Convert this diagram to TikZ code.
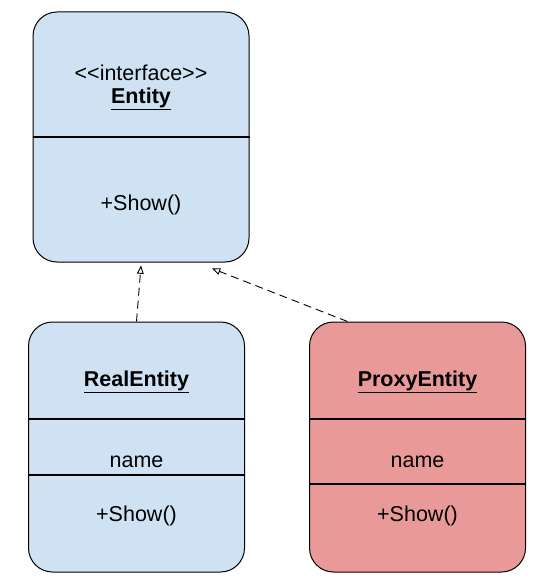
\documentclass[tikz,border=0pt]{standalone}
\usepackage{fontspec}
\setmainfont{Liberation Sans}
\usetikzlibrary{shapes}
\usetikzlibrary{arrows}
\definecolor{classblue}{HTML}{CFE2F3}
\definecolor{classred}{HTML}{EA9999}

\begin{document}
\begin{tikzpicture}[x=1pt,y=-1pt]
	\tikzstyle{classbox}=[rectangle,draw,rounded corners=24pt,minimum width=216pt,minimum height=250pt,inner sep=0pt,line width=1pt]
	\tikzstyle{member}=[inner sep=0pt,font=\fontsize{21.5}{24}\selectfont]
	\tikzstyle{divider}=[line width=1.8pt]
	\tikzstyle{realize}=[dashed,dash pattern=on 8pt off 5pt,line width=0.9pt,-open triangle 45]
	\useasboundingbox (0,0) rectangle (554,585);
	
	\node[classbox,fill=classblue](entity) at (141,137) {};
	\node[classbox,fill=classblue](real) at (136.5,447) {};
	\node[classbox,fill=classred](proxy) at (417.5,447) {};
	
	% Entity
	\node[member](iface) at (141,73) {{<}{<}interface{>}{>}};
	\node[member](ename) at (141,99) {\underline{\textbf{Entity}}};
	\draw[divider] (entity.west |- 0,137) -- (entity.east |- 0,137);
	\node[member](eshow) at (141,205) {+Show()};
	
	% RealEntity
	\node[member](rname) at (136.5,382) {\underline{\textbf{RealEntity}}};
	\draw[divider] (real.west |- 0,419) -- (real.east |- 0,419);
	\node[member](rattr) at (136.5,462) {name};
	\draw[divider] (real.west |- 0,475) -- (real.east |- 0,475);
	\node[member](rshow) at (136.5,516) {+Show()};
	
	% ProxyEntity
	\node[member](pname) at (417.5,382) {\underline{\textbf{ProxyEntity}}};
	\draw[divider] (proxy.west |- 0,419) -- (proxy.east |- 0,419);
	\node[member](pattr) at (417.5,462) {name};
	\draw[divider] (proxy.west |- 0,484) -- (proxy.east |- 0,484);
	\node[member](pshow) at (417.5,516) {+Show()};
	
	\draw[realize] (real.north) -- ([yshift=-3pt]entity.south);
	\draw[realize] ([xshift=-70pt]proxy.north) -- ([xshift=71pt,yshift=-6pt]entity.south);
\end{tikzpicture}
\end{document}
